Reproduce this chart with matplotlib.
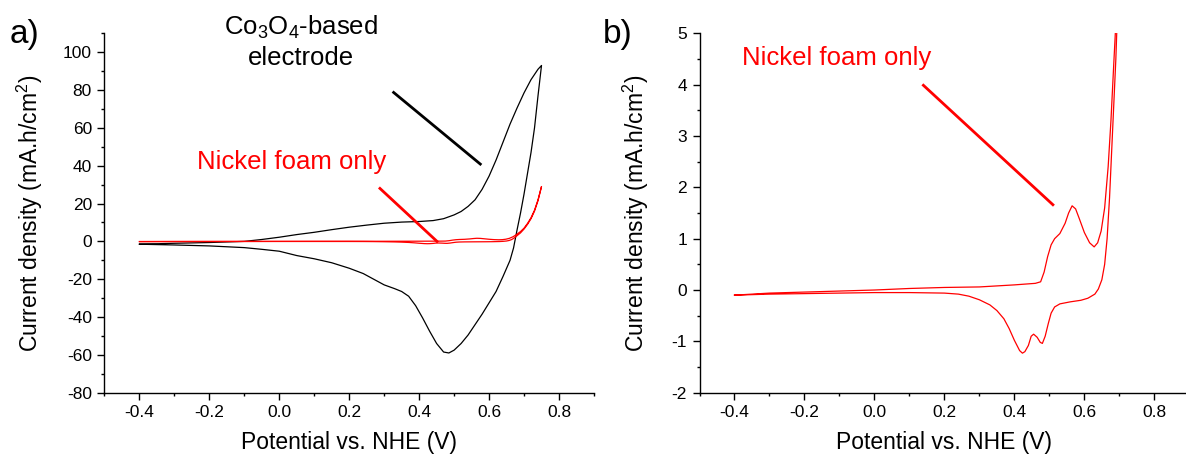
import matplotlib
matplotlib.use("Agg")
import matplotlib.pyplot as plt
from matplotlib.ticker import MultipleLocator

plt.rcParams['font.family'] = ['Liberation Sans', 'DejaVu Sans']
plt.rcParams['mathtext.default'] = 'regular'
plt.rcParams['axes.unicode_minus'] = False

# Co3O4-based electrode, anodic scan then cathodic scan (V, mA.h/cm2)
co_fwd_x = [-0.40, -0.30, -0.20, -0.10, -0.05, 0.00, 0.05, 0.10, 0.15, 0.20, 0.25, 0.30,
            0.35, 0.40, 0.44, 0.47, 0.50, 0.52, 0.54, 0.56, 0.58, 0.60, 0.62, 0.64,
            0.66, 0.68, 0.70, 0.72, 0.74, 0.75]
co_fwd_y = [-1.5, -1.0, -0.6, 0.0, 1.0, 2.2, 3.6, 4.8, 6.2, 7.5, 8.6, 9.6,
            10.2, 10.5, 11.0, 12.0, 14.0, 15.8, 18.5, 22.0, 27.5, 34.5, 43.0, 52.5,
            62.0, 70.5, 78.5, 85.5, 91.0, 93.0]
co_rev_x = [0.75, 0.74, 0.73, 0.72, 0.71, 0.70, 0.69, 0.68, 0.67, 0.66, 0.64, 0.62,
            0.60, 0.58, 0.56, 0.54, 0.52, 0.50, 0.485, 0.47, 0.45, 0.43, 0.41, 0.39,
            0.37, 0.35, 0.33, 0.30, 0.27, 0.24, 0.20, 0.15, 0.10, 0.05, 0.00, -0.05,
            -0.10, -0.20, -0.30, -0.40]
co_rev_y = [93.0, 77.0, 60.0, 47.0, 36.0, 25.0, 15.0, 6.0, -3.5, -10.0, -18.5, -26.5,
            -32.5, -38.5, -44.0, -49.5, -54.0, -57.5, -59.0, -58.5, -54.0, -47.5, -40.5, -34.0,
            -29.0, -26.5, -25.0, -23.0, -20.0, -17.0, -14.2, -11.3, -9.2, -7.5, -5.2, -4.2,
            -3.3, -2.4, -1.9, -1.5]

# Nickel foam only
ni_fwd_x = [-0.40, -0.30, -0.20, -0.10, 0.00, 0.10, 0.20, 0.30, 0.40, 0.46, 0.475, 0.485,
            0.495, 0.505, 0.515, 0.53, 0.545, 0.555, 0.565, 0.575, 0.585, 0.60, 0.615, 0.628,
            0.638, 0.648, 0.658, 0.668, 0.676, 0.684, 0.69, 0.70, 0.71, 0.72, 0.73, 0.74, 0.75]
ni_fwd_y = [-0.10, -0.06, -0.04, -0.02, 0.00, 0.03, 0.05, 0.06, 0.10, 0.13, 0.16, 0.35,
            0.65, 0.88, 1.00, 1.10, 1.30, 1.50, 1.64, 1.58, 1.40, 1.12, 0.92, 0.84,
            0.92, 1.15, 1.60, 2.40, 3.30, 4.40, 5.20, 7.0, 9.5, 12.5, 16.5, 22.0, 29.0]
ni_rev_x = [0.75, 0.74, 0.73, 0.72, 0.71, 0.70, 0.69, 0.68, 0.672, 0.665, 0.658, 0.65,
            0.64, 0.63, 0.61, 0.59, 0.56, 0.53, 0.515, 0.505, 0.497, 0.488, 0.48, 0.474,
            0.465, 0.455, 0.448, 0.44, 0.43, 0.423, 0.415, 0.40, 0.385, 0.37, 0.35, 0.33,
            0.30, 0.27, 0.24, 0.20, 0.10, 0.00, -0.10, -0.20, -0.30, -0.40]
ni_rev_y = [29.0, 21.5, 16.0, 12.0, 9.0, 6.5, 4.5, 3.0, 1.8, 1.0, 0.50, 0.20,
            0.02, -0.08, -0.16, -0.20, -0.23, -0.27, -0.33, -0.45, -0.65, -0.90, -1.04, -1.02,
            -0.92, -0.86, -0.90, -1.08, -1.20, -1.23, -1.18, -0.98, -0.75, -0.56, -0.40, -0.29,
            -0.19, -0.12, -0.08, -0.06, -0.05, -0.05, -0.06, -0.07, -0.08, -0.10]

xticks = [-0.4, -0.2, 0.0, 0.2, 0.4, 0.6, 0.8]

fig = plt.figure(figsize=(11.86, 4.57), dpi=100)
ax1 = fig.add_axes([0.0881, 0.1407, 0.4127, 0.7864])
ax2 = fig.add_axes([0.5898, 0.1407, 0.4130, 0.7864])


def style(ax, ymaj, ymin, ypad):
    ax.spines['top'].set_visible(False)
    ax.spines['right'].set_visible(False)
    for s in ('left', 'bottom'):
        ax.spines[s].set_linewidth(1.0)
    ax.set_xlim(-0.5, 0.9)
    ax.set_xticks(xticks)
    ax.set_xticklabels(['%.1f' % t for t in xticks])
    ax.xaxis.set_minor_locator(MultipleLocator(0.1))
    ax.yaxis.set_major_locator(MultipleLocator(ymaj))
    ax.yaxis.set_minor_locator(MultipleLocator(ymin))
    ax.tick_params(which='major', direction='out', length=5, width=1.0, labelsize=12.5, pad=4)
    ax.tick_params(which='minor', direction='out', length=2.5, width=1.0)
    ax.set_xlabel('Potential vs. NHE (V)', fontsize=16.5, labelpad=8)
    ax.set_ylabel('Current density (mA.h/cm$^2$)', fontsize=16.5, labelpad=ypad)


# panel a
ax1.plot(co_fwd_x + co_rev_x, co_fwd_y + co_rev_y, color='black', lw=0.9)
ax1.plot(ni_fwd_x + ni_rev_x, ni_fwd_y + ni_rev_y, color='red', lw=0.9)
ax1.set_ylim(-80, 110)
style(ax1, 20, 10, 13)
ax1.set_yticks([-80, -60, -40, -20, 0, 20, 40, 60, 80, 100])
ax1.plot([0.324, 0.578], [79.2, 40.4], color='black', lw=2.0, solid_capstyle='butt')
ax1.plot([0.285, 0.454], [28.5, -0.5], color='red', lw=2.0, solid_capstyle='butt')
ax1.text(0.063, 105.5, 'Co$_3$O$_4$-based\nelectrode', fontsize=18.5, ha='center',
         va='center', linespacing=1.25, clip_on=False)
ax1.text(-0.235, 42.2, 'Nickel foam only', fontsize=18.5, color='red', ha='left', va='center')

# panel b
ax2.plot(ni_fwd_x + ni_rev_x, ni_fwd_y + ni_rev_y, color='red', lw=0.9)
ax2.set_ylim(-2, 5)
style(ax2, 1, 0.5, 15)
ax2.plot([0.137, 0.513], [4.006, 1.643], color='red', lw=2.0, solid_capstyle='butt')
ax2.text(-0.379, 4.51, 'Nickel foam only', fontsize=18.5, color='red', ha='left', va='center')

fig.text(0.008, 0.905, 'a)', fontsize=24, ha='left', va='baseline')
fig.text(0.508, 0.905, 'b)', fontsize=24, ha='left', va='baseline')

fig.savefig('out.png', dpi=100)
